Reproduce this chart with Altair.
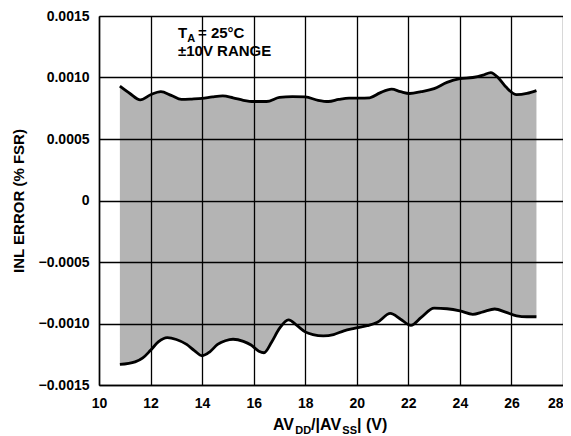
import altair as alt
import pandas as pd

# ---- data ----
upper_x = [10.81, 11.2, 11.6, 12.0, 12.4, 12.8, 13.2, 13.6, 14.0, 14.4, 14.8, 15.2, 15.6, 16.0,
           16.5, 17.0, 17.5, 18.0, 18.5, 18.9, 19.3, 19.7, 20.1, 20.5, 20.9, 21.35, 21.7, 22.05,
           22.5, 23.0, 23.5, 24.0, 24.5, 24.9, 25.2, 25.5, 25.8, 26.2, 26.6, 26.97]
upper_y = [0.000930, 0.000870, 0.000818, 0.000860, 0.000885, 0.000855, 0.000822, 0.000825,
           0.000830, 0.000842, 0.000850, 0.000835, 0.000815, 0.000805, 0.000805, 0.000838,
           0.000845, 0.000842, 0.000815, 0.000805, 0.000822, 0.000833, 0.000832, 0.000835,
           0.000875, 0.000905, 0.000885, 0.000870, 0.000885, 0.000910, 0.000960, 0.000990,
           0.001000, 0.001020, 0.001040, 0.000995, 0.000920, 0.000860, 0.000870, 0.000893]

lower_x = [10.81, 11.4, 11.7, 12.0, 12.3, 12.65, 13.0, 13.4, 13.7, 14.0, 14.3, 14.6, 14.9, 15.2,
           15.6, 15.9, 16.2, 16.4, 16.7, 17.0, 17.35, 17.7, 18.0, 18.3, 18.7, 19.1, 19.5, 19.9,
           20.4, 20.8, 21.3, 21.7, 22.1, 22.5, 23.0, 23.5, 24.0, 24.5, 24.9, 25.35, 25.8, 26.2,
           26.6, 26.97]
lower_y = [-0.001333, -0.001312, -0.001280, -0.001218, -0.001150, -0.001115, -0.001130,
           -0.001170, -0.001220, -0.001262, -0.001230, -0.001170, -0.001140, -0.001128,
           -0.001145, -0.001175, -0.001225, -0.001238, -0.001150, -0.001040, -0.000970,
           -0.001020, -0.001068, -0.001090, -0.001100, -0.001090, -0.001060, -0.001040,
           -0.001018, -0.000990, -0.000918, -0.000965, -0.001015, -0.000950, -0.000875,
           -0.000880, -0.000897, -0.000925, -0.000905, -0.000882, -0.000910, -0.000938,
           -0.000945, -0.000945]

x_ticks = [10, 12, 14, 16, 18, 20, 22, 24, 26, 28]
y_ticks = [-0.0015, -0.0010, -0.0005, 0.0, 0.0005, 0.0010, 0.0015]

FONT = "Liberation Sans"
GRAY = "#b4b4b4"

up = pd.DataFrame({"x": upper_x, "y": upper_y, "z": [0.0] * len(upper_x)})
lo = pd.DataFrame({"x": lower_x, "y": lower_y, "z": [0.0] * len(lower_x)})

xs = alt.Scale(domain=[10, 28], nice=False, zero=False)
ys = alt.Scale(domain=[-0.0015, 0.0015], nice=False, zero=False)

xax = alt.Axis(values=x_ticks, grid=True, gridColor="black", gridWidth=1.3, ticks=False,
               labelPadding=11, labelFont=FONT, labelFontWeight="bold", labelFontSize=14,
               labelColor="black", domainColor="black", domainWidth=1.5, title=None,
               zindex=1, labelFlush=False,
               labelAlign=alt.ExprRef(expr="datum.value == 28 ? 'right' : 'center'"))
yax = alt.Axis(values=y_ticks, grid=True, gridColor="black", gridWidth=1.3, ticks=False,
               labelPadding=10, labelFont=FONT, labelFontWeight="bold", labelFontSize=14,
               labelColor="black", domainColor="black", domainWidth=1.5,
               title="INL ERROR (% FSR)", titleFont=FONT, titleFontWeight="bold",
               titleFontSize=15, titleColor="black", titleX=-76, titleY=184.5,
               titleAngle=270, titleBaseline="alphabetic", titleAlign="center",
               labelExpr="datum.value == 0 ? '0' : format(datum.value, '.4f')",
               zindex=1, labelFlush=False)

base_up = alt.Chart(up)
base_lo = alt.Chart(lo)

area_up = base_up.mark_area(color=GRAY, interpolate="monotone").encode(
    x=alt.X("x:Q", scale=xs, axis=xax),
    y=alt.Y("y:Q", scale=ys, axis=yax),
    y2="z:Q",
)
area_lo = base_lo.mark_area(color=GRAY, interpolate="monotone").encode(
    x=alt.X("x:Q", scale=xs), y=alt.Y("y:Q", scale=ys), y2="z:Q"
)
line_up = base_up.mark_line(color="black", strokeWidth=2.8, interpolate="monotone").encode(
    x=alt.X("x:Q", scale=xs), y=alt.Y("y:Q", scale=ys)
)
line_lo = base_lo.mark_line(color="black", strokeWidth=2.8, interpolate="monotone").encode(
    x=alt.X("x:Q", scale=xs), y=alt.Y("y:Q", scale=ys)
)

one = pd.DataFrame({"k": [0]})


def txt(s, px, py, size):
    return alt.Chart(one).mark_text(
        text=s, font=FONT, fontWeight="bold", fontSize=size, color="black",
        align="left", baseline="alphabetic"
    ).encode(x=alt.value(px), y=alt.value(py))


labels = [
    txt("AV", 174, 414, 16),
    txt("DD", 196.2, 418, 11),
    txt("/|AV", 212.1, 414, 16),
    txt("SS", 243.3, 418, 11),
    txt("| (V)", 258, 414, 16),
    txt("T", 79, 21.7, 15),
    txt("A", 88.2, 25.5, 11),
    txt("= 25°C", 99, 21.7, 15),
    txt("±10V RANGE", 79, 40, 15),
]

chart = alt.layer(area_up, area_lo, line_up, line_lo, *labels).properties(
    width=464, height=369,
    autosize=alt.AutoSizeParams(type="none"),
    padding={"left": 91, "top": 8, "right": 0, "bottom": 51},
).configure_view(stroke="black", strokeWidth=1.5).configure(background="white")

chart.save("out.html", embed_options={"renderer": "svg", "actions": False})
